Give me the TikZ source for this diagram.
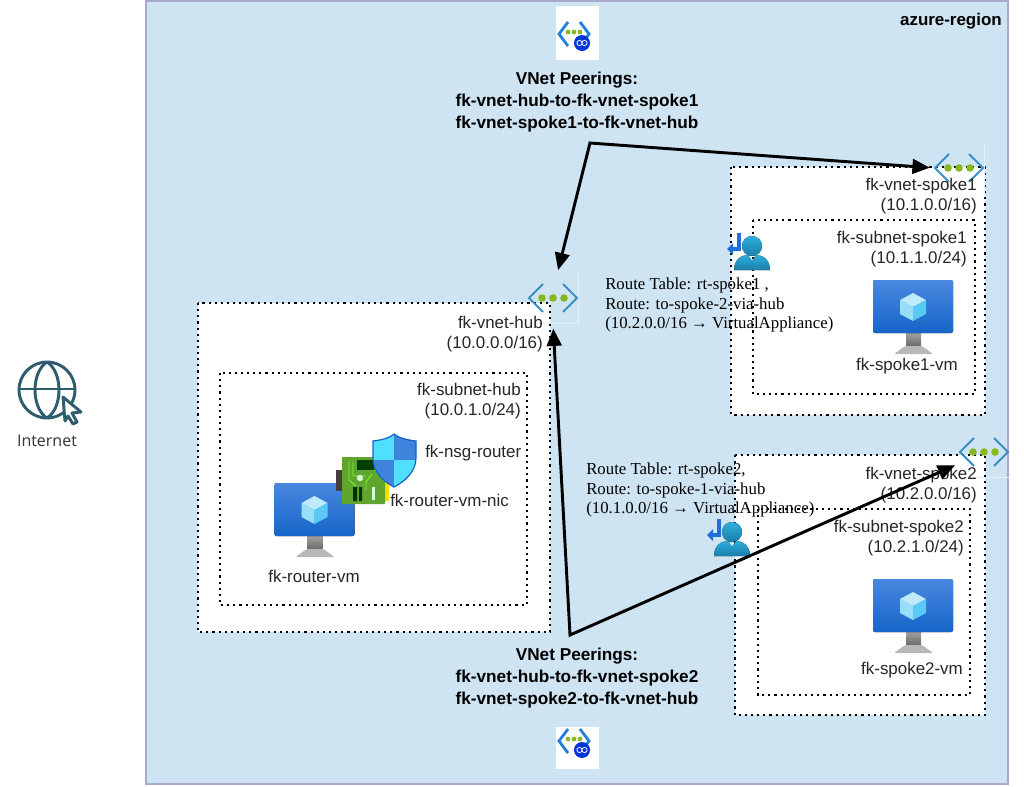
\documentclass[tikz,border=0pt]{standalone}
\usepackage{fontspec}
\setmainfont{Liberation Sans}
\newfontfamily\routefont{Liberation Serif}
\newfontfamily\netfont{Open Sans}
\usetikzlibrary{arrows.meta}
\definecolor{regionblue}{HTML}{CFE4F2}
\definecolor{regionedge}{HTML}{A9A9CC}
\definecolor{chevblue}{HTML}{3B8FC4}
\definecolor{dotgreen}{HTML}{86B81F}
\definecolor{globeink}{HTML}{2F5D70}
\definecolor{vmtop}{HTML}{4A88E0}
\definecolor{vmbottom}{HTML}{1565C8}
\definecolor{usertop}{HTML}{2CAFDF}
\definecolor{userbottom}{HTML}{1B7EA8}
\definecolor{routeblue}{HTML}{1E6FD8}
\definecolor{boardgreen}{HTML}{5FA52E}
\definecolor{shieldlight}{HTML}{50E0FF}
\definecolor{shielddark}{HTML}{3F84DC}
\definecolor{peerblue}{HTML}{1F7FDC}
\definecolor{paleline}{HTML}{E4F0F8}
\tikzset{
  lbl/.style={font=\fontsize{12.7}{15}\selectfont,inner sep=0pt,align=right,text=black!85},
  peertxt/.style={font=\fontsize{12.9}{16.5}\selectfont\bfseries,inner sep=0pt,align=center},
  routetxt/.style={font=\fontsize{12.6}{14.7}\selectfont\routefont,inner sep=0pt,align=left,anchor=west},
  netbox/.style={draw=black,fill=white,line width=.8pt,dash pattern=on 1.6pt off 3pt},
  subbox/.style={draw=black,line width=.8pt,dash pattern=on 1.6pt off 3pt},
  iconbox/.style={minimum size=37.5pt,inner sep=0pt},
  peer/.style={line width=2.2pt,{Triangle[length=13pt,width=11pt]}-{Triangle[length=13pt,width=11pt]},shorten <=2pt,shorten >=3pt},
  vnet/.pic={
    \draw[chevblue,line width=1.5pt] (-10,-14) -- (-24,0) -- (-10,14) (10,-14) -- (24,0) -- (10,14);
    \foreach \x in {-11,0,11}
      \fill[dotgreen] (\x,0) circle (3.8);
  },
  vm/.pic={
    \fill[top color=black!35,bottom color=black!60] (-7,52) rectangle (8,67);
    \fill[black!28,rounded corners=1pt] (-19,74) -- (-8,66) -- (9,66) -- (20,74) -- cycle;
    \fill[rounded corners=1.5pt,top color=vmtop,bottom color=vmbottom] (-40,0) rectangle (40,53);
    \fill[cyan!25!white] (0,13) -- (13,20) -- (0,27) -- (-13,20) -- cycle;
    \fill[cyan!40!white] (-13,20) -- (0,27) -- (0,41) -- (-13,34) -- cycle;
    \fill[cyan!65!white] (13,20) -- (0,27) -- (0,41) -- (13,34) -- cycle;
  },
  routeuser/.pic={
    \fill[routeblue] (-15,-13) rectangle (-11,5);
    \fill[routeblue] (-21,1) rectangle (-11,5);
    \fill[routeblue] (-25,3) -- (-19,-3) -- (-19,9) -- cycle;
    \fill[top color=usertop,bottom color=userbottom] (-18,24) .. controls (-18,13) and (-10,9) .. (-4,9) -- (0,15) -- (4,9) .. controls (10,9) and (18,13) .. (18,24) -- cycle;
    \fill[top color=usertop,bottom color=userbottom] (0,0) circle (10);
  }
}
\begin{document}
\begin{tikzpicture}[x=.75pt,y=-.75pt]
  \useasboundingbox (0,0) rectangle (1024,786);
  % region and networks
  \draw[fill=regionblue,draw=regionedge,line width=.9pt] (146,1) rectangle (1008,784);
  \draw[netbox] (198,303) rectangle (550,632);
  \draw[subbox] (220,373) rectangle (527,605);
  \draw[netbox] (731,167) rectangle (985,415);
  \draw[subbox] (753,220) rectangle (975,394);
  \draw[netbox] (735,455) rectangle (985,715);
  \draw[subbox] (758,509) rectangle (970,695);
  \node[font=\fontsize{12.7}{15}\selectfont\bfseries,inner sep=0pt,anchor=mid east] (regionlbl) at (1002,22) {azure-region};
  % peering icons
  \foreach \y/\h/\c/\n in {6/54/34/peerone,727/42/741/peertwo} {
    \node[fill=white,minimum width=32.25pt,minimum height=\h*.75pt,inner sep=0pt,anchor=north west] (\n) at (556,\y) {};
    \begin{scope}[shift={(574,\c)}]
      \draw[peerblue,line width=2.1pt] (-6,-12) -- (-15,0) -- (-6,12);
      \draw[peerblue,line width=2.1pt] (6,-12) -- (15,0) -- (6,12);
      \foreach \x in {-6,0,6}
        \fill[dotgreen] (\x,-2) circle (2.4);
      \fill[blue!75!cyan!85!black] (8,9) circle (8);
      \draw[white,line width=.6pt] (5.5,9) circle (2.6) (10.5,9) circle (2.6);
    \end{scope}
  }
  % vnet icons
  \node[iconbox] (vnethub) at (553,298) {};
  \node[iconbox] (vnetspokeone) at (959,168) {};
  \node[iconbox] (vnetspoketwo) at (984,452) {};
  \draw[paleline,line width=.4pt] (vnethub.north east) -- (vnethub.south east) -- (vnethub.south west);
  \draw[paleline,line width=.4pt] (vnetspokeone.north east) -- (vnetspokeone.south east);
  \draw[paleline,line width=.4pt] (vnetspoketwo.south west) -- (vnetspoketwo.south east);
  \foreach \n in {vnethub,vnetspokeone,vnetspoketwo}
    \pic at (\n) {vnet};
  % machines
  \foreach \x/\y in {314.5/483,913/280,913/579}
    \pic at (\x,\y) {vm};
  \foreach \x/\y in {752/246,732/532}
    \pic at (\x,\y) {routeuser};
  % nic
  \fill[black!75] (336,470) rectangle (342,491);
  \fill[yellow!80!orange] (384,474) rectangle (389,501);
  \fill[boardgreen,rounded corners=.5pt] (342,457) rectangle (385,504);
  \fill[green!25!black] (357,460) rectangle (374,470);
  \draw[green!60!yellow!85!white,line width=.6pt] (349,462) -- (349,480) -- (356,486) (353,462) -- (353,476) -- (366,476) (366,490) -- (366,482) -- (372,474);
  \fill[white!85!green] (360,478) circle (3.2);
  \fill[green!20!black] (353,487) rectangle (357,501) (359,487) rectangle (362,501);
  \fill[white!85!green] (372,487) rectangle (375,500);
  % shield
  \begin{scope}
    \clip (394,434) .. controls (401,439) and (408,440) .. (416,441) -- (416,458) .. controls (416,472) and (404,482) .. (394,487) .. controls (384,482) and (373,472) .. (373,458) -- (373,441) .. controls (381,440) and (388,439) .. (394,434) -- cycle;
    \fill[shieldlight] (370,430) rectangle (394,460);
    \fill[shielddark] (394,430) rectangle (420,460);
    \fill[shielddark] (370,460) rectangle (394,490);
    \fill[shieldlight] (394,460) rectangle (420,490);
  \end{scope}
  \draw[vmbottom,line width=.9pt] (394,434) .. controls (401,439) and (408,440) .. (416,441) -- (416,458) .. controls (416,472) and (404,482) .. (394,487) .. controls (384,482) and (373,472) .. (373,458) -- (373,441) .. controls (381,440) and (388,439) .. (394,434) -- cycle;
  % internet
  \begin{scope}[globeink,line width=2.2pt]
    \draw (47,390) circle (28);
    \draw (47,362) .. controls (31,372) and (31,408) .. (47,418);
    \draw (47,362) .. controls (63,372) and (63,408) .. (47,418);
    \draw (19,389) -- (75,389);
    \draw[fill=white,line join=round] (63,397) -- (81,412) -- (72,413) -- (77,422) -- (73,424) -- (68,416) -- (65,421) -- cycle;
  \end{scope}
  \node[font=\fontsize{12}{14}\selectfont\netfont,text=black!80,inner sep=0pt] (inetlbl) at (47,441) {Internet};
  % labels
  \foreach \n/\x/\y/\t in {
      hublbl/543/334/{fk-vnet-hub\\(10.0.0.0/16)},
      hubsublbl/521/401/{fk-subnet-hub\\(10.0.1.0/24)},
      spokeonelbl/977/196/{fk-vnet-spoke1\\(10.1.0.0/16)},
      spokeonesublbl/967/249/{fk-subnet-spoke1\\(10.1.1.0/24)},
      spoketwolbl/977/485/{fk-vnet-spoke2\\(10.2.0.0/16)},
      spoketwosublbl/964/538/{fk-subnet-spoke2\\(10.2.1.0/24)}}
    \node[lbl,anchor=east] (\n) at (\x,\y) {\t};
  \node[lbl,anchor=mid] (routervmlbl) at (314,579) {fk-router-vm};
  \node[lbl,anchor=mid] (spokeonevmlbl) at (907,367) {fk-spoke1-vm};
  \node[lbl,anchor=mid] (spoketwovmlbl) at (912,671) {fk-spoke2-vm};
  \node[lbl,anchor=mid west] (nsglbl) at (425,454) {fk-nsg-router};
  \node[lbl,anchor=mid west] (niclbl) at (390,503) {fk-router-vm-nic};
  \node[peertxt] (peeronelbl) at (577,102) {VNet Peerings:\\fk-vnet-hub-to-fk-vnet-spoke1\\fk-vnet-spoke1-to-fk-vnet-hub};
  \node[peertxt] (peertwolbl) at (577,678) {VNet Peerings:\\fk-vnet-hub-to-fk-vnet-spoke2\\fk-vnet-spoke2-to-fk-vnet-hub};
  \node[routetxt] (routeonelbl) at (605,305) {Route Table: rt-spoke1 ,\\Route: to-spoke-2-via-hub\\(10.2.0.0/16 → VirtualAppliance)};
  \node[routetxt] (routetwolbl) at (586,490) {Route Table: rt-spoke2,\\Route: to-spoke-1-via-hub\\(10.1.0.0/16 → VirtualAppliance)};
  % peerings
  \coordinate (cornerone) at (590,143);
  \coordinate (cornertwo) at (570,635);
  \draw[peer] (vnethub.80) -- (cornerone) -- (vnetspokeone.west);
  \draw[peer,shorten <=4pt] (vnethub.south) -- (cornertwo) -- (vnetspoketwo.205);
\end{tikzpicture}
\end{document}
